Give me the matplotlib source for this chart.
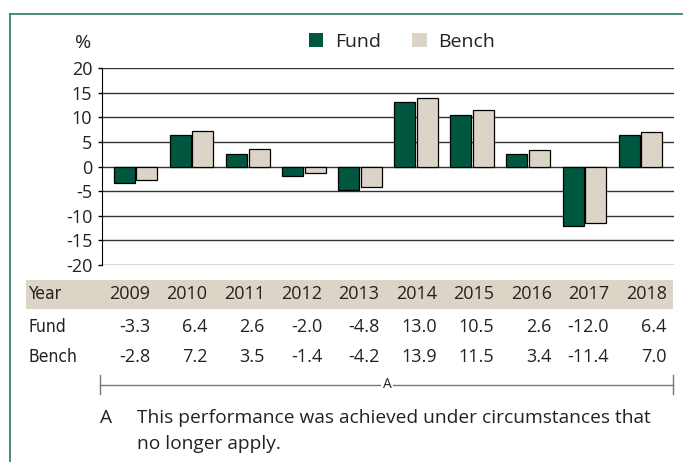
import matplotlib
matplotlib.use("Agg")
import matplotlib.pyplot as plt
from matplotlib.patches import Patch, Rectangle
from matplotlib.lines import Line2D
import numpy as np

years = ["2009", "2010", "2011", "2012", "2013", "2014", "2015", "2016", "2017", "2018"]
fund = [-3.3, 6.4, 2.6, -2.0, -4.8, 13.0, 10.5, 2.6, -12.0, 6.4]
bench = [-2.8, 7.2, 3.5, -1.4, -4.2, 13.9, 11.5, 3.4, -11.4, 7.0]
yticks = [20, 15, 10, 5, 0, -5, -10, -15, -20]
note_lines = ["This performance was achieved under circumstances that", "no longer apply."]

FUND_C = "#00573f"
BENCH_C = "#ddd4c8"
FRAME_C = "#2e7a5c"
TXT = "#222222"

plt.rcParams['font.family'] = ['Open Sans', 'DejaVu Sans']
W, H = 683, 462
fig = plt.figure(figsize=(W / 100, H / 100), dpi=100)

def fx(px):
    return px / W

def fy(py):
    return 1 - py / H

# frame lines
fig.add_artist(Line2D([fx(10), 1], [fy(14), fy(14)], color=FRAME_C, lw=1.2))
fig.add_artist(Line2D([fx(10), fx(10)], [fy(14), 0], color=FRAME_C, lw=1.2))

ax = fig.add_axes([fx(102), fy(265), fx(674) - fx(102), fy(68) - fy(265)])
x = np.arange(len(years))
w = 0.375
ax.bar(x - 0.2, fund, w, color=FUND_C, edgecolor="black", lw=0.9, zorder=3)
ax.bar(x + 0.2, bench, w, color=BENCH_C, edgecolor="black", lw=0.9, zorder=3)
ax.set_xlim(-0.6, 9.6)
ax.set_ylim(-20, 20)
ax.set_yticks(yticks)
ax.set_yticklabels([str(t) for t in yticks], fontsize=13, color=TXT)
ax.set_xticks([])
for t in yticks:
    ax.axhline(t, color="#333333", lw=1, zorder=1)
for s in ["top", "right", "bottom"]:
    ax.spines[s].set_visible(False)
ax.spines["left"].set_color("black")
ax.tick_params(axis="y", length=3, width=1, pad=4)

fig.text(fx(83), fy(43), "%", fontsize=14, ha="center", va="center", color=TXT)

handles = [Patch(facecolor=FUND_C, edgecolor="none", label="Fund"),
           Patch(facecolor=BENCH_C, edgecolor="none", label="Bench")]
fig.legend(handles=handles, loc="center", bbox_to_anchor=(fx(402), fy(42)), ncol=2,
           frameon=False, fontsize=14, handlelength=0.75, handleheight=0.75,
           handletextpad=0.6, columnspacing=1.6, labelcolor=TXT)

# table below the chart
fig.add_artist(Rectangle((fx(26), fy(309)), fx(673) - fx(26), fy(280) - fy(309),
                         transform=fig.transFigure, facecolor=BENCH_C, edgecolor="none"))
rows = [("Year", years, 294), ("Fund", [f"{v:.1f}" for v in fund], 327),
        ("Bench", [f"{v:.1f}" for v in bench], 357)]
for label, vals, py in rows:
    fig.text(fx(28), fy(py), label, family="DejaVu Sans", fontstretch="condensed",
             fontsize=12.5, va="center", color=TXT)
    for i, v in enumerate(vals):
        fig.text(fx(150 + 57.4 * i), fy(py), v, fontsize=13, ha="right", va="center", color=TXT)

# bracket for note A
by = 385
fig.add_artist(Line2D([fx(100), fx(673)], [fy(by), fy(by)], color="#777777", lw=1))
fig.add_artist(Line2D([fx(100), fx(100)], [fy(375), fy(394)], color="#777777", lw=1))
fig.add_artist(Line2D([fx(673), fx(673)], [fy(375), fy(394)], color="#777777", lw=1))
fig.text(fx(387), fy(by), "A", fontsize=10, ha="center", va="center", color=TXT,
         bbox=dict(facecolor="white", edgecolor="none", pad=1))

fig.text(fx(100), fy(416), "A", fontsize=13.8, va="center_baseline", color=TXT)
for j, line in enumerate(note_lines):
    fig.text(fx(137), fy(416 + 26 * j), line, fontsize=13.8, va="center_baseline", color=TXT)

fig.savefig("out.png", dpi=100)
